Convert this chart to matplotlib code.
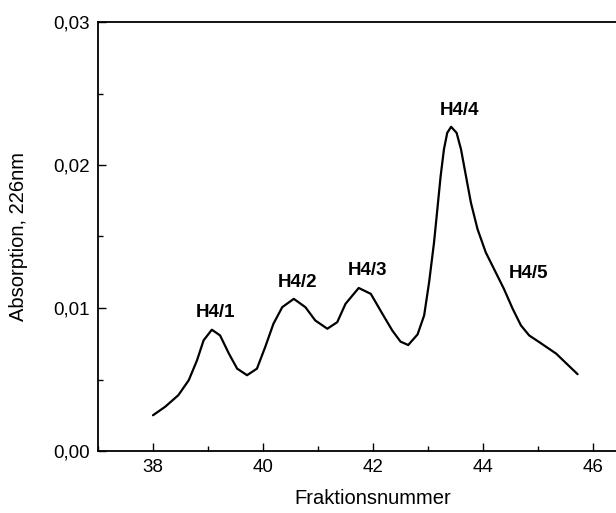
import matplotlib
matplotlib.use("Agg")
import matplotlib.pyplot as plt
from matplotlib.ticker import FuncFormatter, MultipleLocator

plt.rcParams['font.family'] = ['Liberation Sans', 'DejaVu Sans']

# Data
fraction = [38.0, 38.22, 38.46, 38.65, 38.80, 38.92, 39.07, 39.22, 39.38, 39.53,
            39.71, 39.89, 40.04, 40.19, 40.35, 40.56, 40.77, 40.95, 41.17, 41.35,
            41.50, 41.74, 41.96, 42.17, 42.35, 42.50, 42.64, 42.81, 42.93, 43.02,
            43.11, 43.17, 43.23, 43.29, 43.35, 43.42, 43.52, 43.60, 43.69, 43.78,
            43.90, 44.05, 44.23, 44.38, 44.54, 44.69, 44.84, 45.02, 45.33, 45.72]
absorption = [0.00250, 0.00309, 0.00390, 0.00495, 0.00634, 0.00774, 0.00848, 0.00808, 0.00681, 0.00576,
              0.00530, 0.00576, 0.00727, 0.00890, 0.01006, 0.01064, 0.01006, 0.00913, 0.00855, 0.00901,
              0.01029, 0.01140, 0.01099, 0.00960, 0.00843, 0.00765, 0.00741, 0.00815, 0.00948, 0.01180,
              0.01459, 0.01691, 0.01923, 0.02110, 0.02225, 0.02267, 0.02225, 0.02110, 0.01923, 0.01737,
              0.01552, 0.01389, 0.01250, 0.01134, 0.00994, 0.00878, 0.00808, 0.00762, 0.00681, 0.00537]

peak_labels = ["H4/1", "H4/2", "H4/3", "H4/4", "H4/5"]
label_x = [39.13, 40.62, 41.9, 43.57, 44.82]
label_y = [0.0097, 0.0118, 0.0126, 0.0238, 0.0124]

x_ticks = [38, 40, 42, 44, 46]
y_ticks = [0.00, 0.01, 0.02, 0.03]

fig = plt.figure(figsize=(6.16, 5.13), dpi=100)
ax = fig.add_axes([98 / 616, 62 / 513, 550 / 616, 429 / 513])

ax.plot(fraction, absorption, color='black', lw=1.6, solid_joinstyle='round',
        solid_capstyle='round')

for lab, lx, ly in zip(peak_labels, label_x, label_y):
    ax.text(lx, ly, lab, ha='center', va='center', fontsize=13.5, fontweight='bold')

ax.set_xlim(37, 47)
ax.set_ylim(0, 0.03)
ax.set_xticks(x_ticks)
ax.set_yticks(y_ticks)
ax.xaxis.set_minor_locator(MultipleLocator(1))
ax.yaxis.set_minor_locator(MultipleLocator(0.005))
ax.yaxis.set_major_formatter(FuncFormatter(lambda v, p: f"{v:.2f}".replace('.', ',')))

ax.tick_params(which='both', direction='in', top=False, right=False, width=1.0)
ax.tick_params(which='major', length=6, labelsize=13.5, pad=6)
ax.tick_params(which='minor', length=3.5)

for s in ax.spines.values():
    s.set_linewidth(1.3)

ax.set_xlabel("Fraktionsnummer", fontsize=14.5, labelpad=9)
ax.set_ylabel("Absorption, 226nm", fontsize=14.5, labelpad=18)

fig.savefig("out.png", dpi=100)
